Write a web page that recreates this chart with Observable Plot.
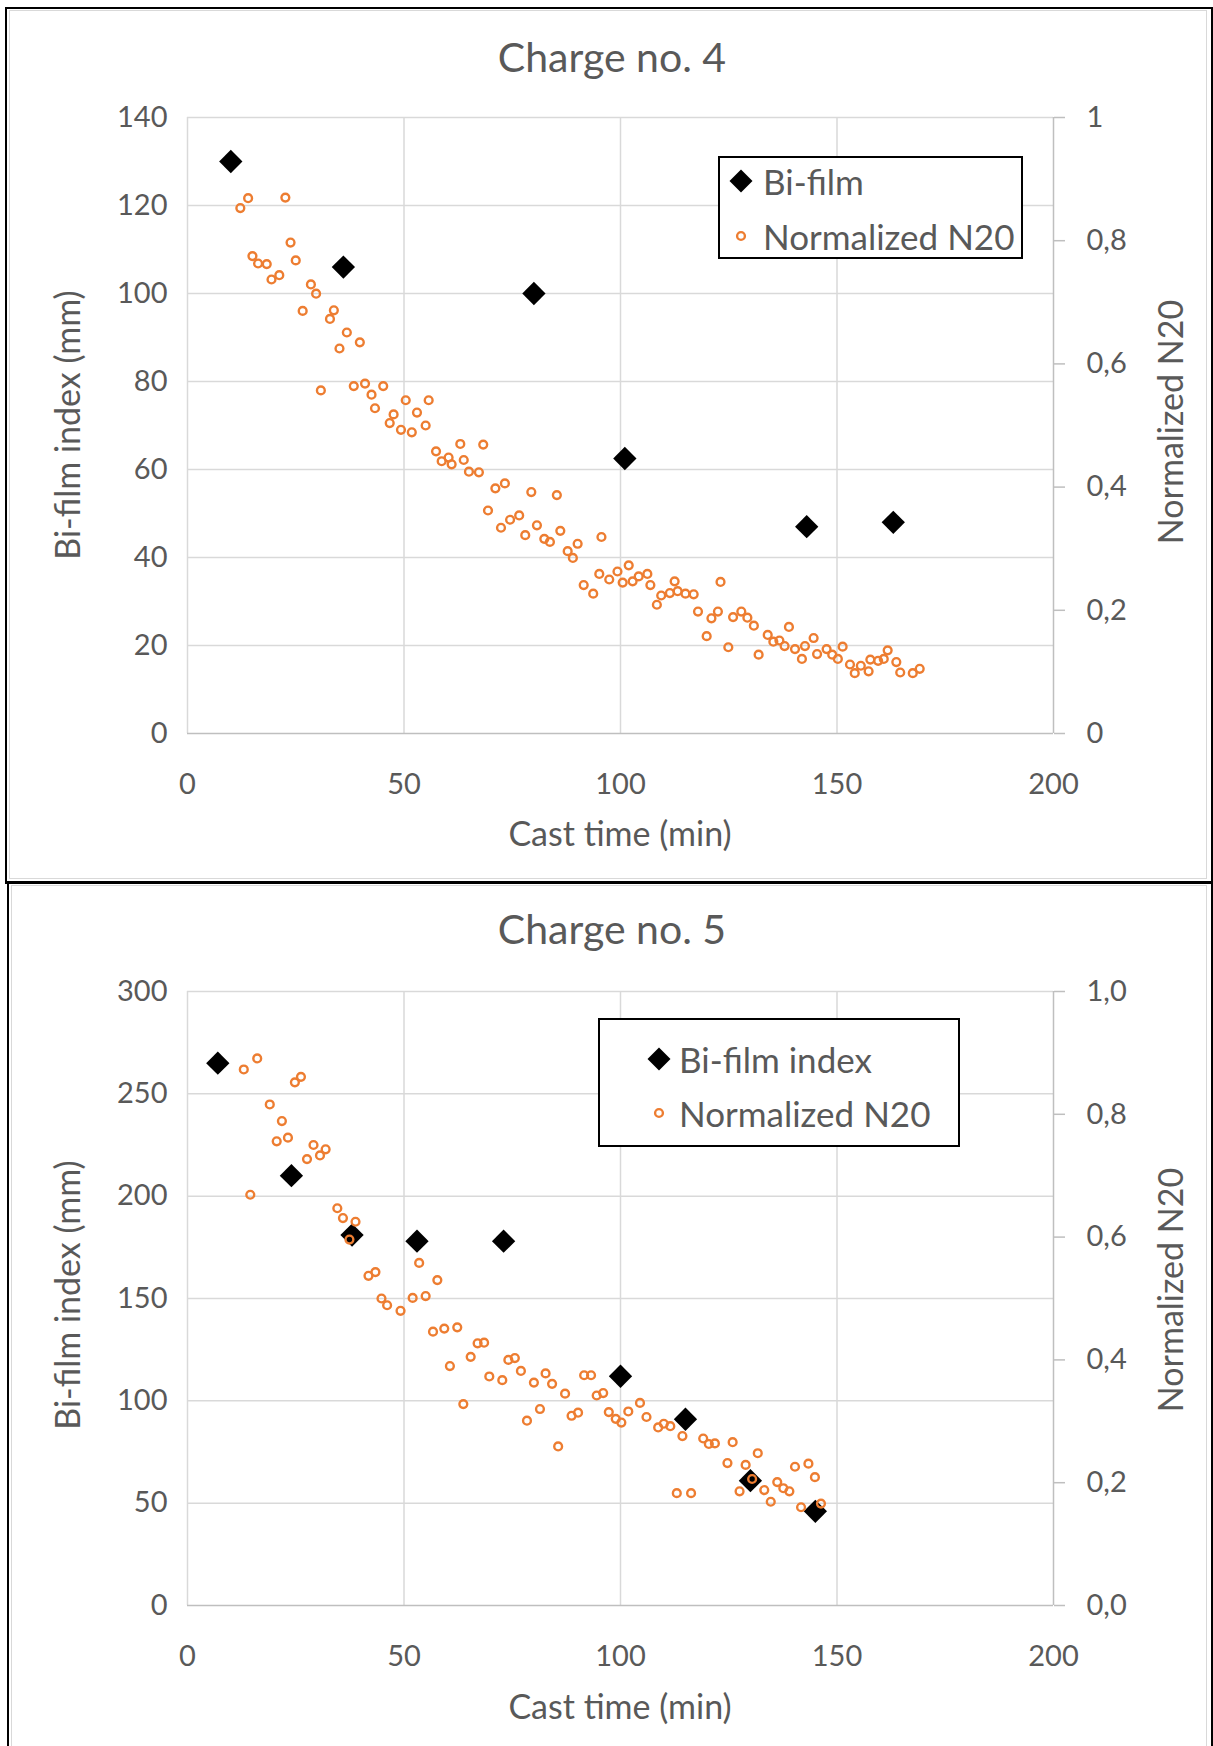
<!DOCTYPE html>
<html>
<head>
<meta charset="utf-8">
<script src="https://cdn.jsdelivr.net/npm/d3@7"></script>
<script src="https://cdn.jsdelivr.net/npm/@observablehq/plot@0.6"></script>
<style>
  html, body { margin: 0; padding: 0; background: #fff; }
  body { font-family: Lato, "Open Sans", sans-serif; color: #595959; }
  #root { position: relative; width: 1213px; height: 1746px; overflow: hidden; }
  .panel { position: absolute; box-sizing: border-box; border: 2px solid #000; }
  .inner { position: absolute; box-sizing: border-box; border: 1px solid #d9d9d9; }
  .plotwrap { position: absolute; left: 0; }
  .txt { position: absolute; white-space: nowrap; line-height: 1; color: #595959; }
  .title { font-size: 41px; transform: translate(-50%, -50%); }
  .axt { font-size: 34px; transform: translate(-50%, -50%); }
  .axty { font-size: 34px; transform: translate(-50%, -50%) rotate(-90deg); }
  .legend { position: absolute; box-sizing: border-box; border: 2px solid #000; background: #fff; }
  .legend .item { position: absolute; white-space: nowrap; font-size: 35px; line-height: 1; color: #595959; transform: translateY(-50%); }
  .legend svg { position: absolute; overflow: visible; }
</style>
</head>
<body>
<div id="root"></div>
<script>
// ---------------- DATA ----------------
const xTicks = [0, 50, 100, 150, 200];

// Charge no. 4
const c4LeftTicks = [0, 20, 40, 60, 80, 100, 120, 140];
const c4RightTicks = [0, 0.2, 0.4, 0.6, 0.8, 1];
const c4RightLabels = ["0", "0,2", "0,4", "0,6", "0,8", "1"];
const c4BifilmTime = [10, 36, 80, 101, 143, 163];
const c4BifilmIndex = [130, 106, 100, 62.5, 47, 48];
const c4N20Time = [12.2, 14.0, 15.0, 16.3, 18.3, 19.4, 21.2, 22.6, 23.8, 25.0, 26.6, 28.5, 29.7, 30.8, 32.9, 33.8, 35.1, 36.8, 38.4, 39.8,
  41.0, 42.5, 43.3, 45.2, 46.7, 47.6, 49.3, 50.4, 51.8, 53.0, 55.0, 55.7, 57.4, 58.7, 60.3, 61.0, 63.0, 63.8, 65.0, 67.3,
  68.3, 69.4, 71.1, 72.4, 73.3, 74.5, 76.6, 78.0, 79.4, 80.7, 82.4, 83.7, 85.3, 86.1, 87.8, 89.0, 90.1, 91.5, 93.7, 95.1,
  95.6, 97.4, 99.3, 100.5, 101.9, 102.8, 104.2, 106.2, 106.9, 108.4, 109.4, 111.4, 112.5, 113.2, 115.0, 116.9, 117.9, 119.9, 121.0, 122.5,
  123.1, 124.9, 126.0, 127.9, 129.3, 130.8, 131.9, 134.0, 135.3, 136.7, 137.9, 138.9, 140.3, 141.9, 142.6, 144.6, 145.4, 147.6, 148.9, 150.2,
  151.3, 153.0, 154.1, 155.5, 157.3, 157.7, 159.5, 160.8, 161.7, 163.7, 164.6, 167.5, 169.1];
const c4N20Value = [0.853, 0.869, 0.775, 0.763, 0.762, 0.737, 0.744, 0.870, 0.797, 0.768, 0.686, 0.729, 0.714, 0.557, 0.673, 0.687, 0.625, 0.651, 0.564, 0.635,
  0.568, 0.550, 0.528, 0.564, 0.504, 0.518, 0.493, 0.541, 0.489, 0.521, 0.500, 0.541, 0.458, 0.442, 0.448, 0.437, 0.470, 0.444, 0.425, 0.424,
  0.469, 0.362, 0.398, 0.334, 0.406, 0.347, 0.354, 0.322, 0.392, 0.338, 0.316, 0.311, 0.387, 0.329, 0.296, 0.285, 0.308, 0.241, 0.227, 0.259,
  0.319, 0.250, 0.263, 0.245, 0.273, 0.247, 0.255, 0.259, 0.241, 0.209, 0.224, 0.228, 0.247, 0.231, 0.227, 0.226, 0.198, 0.158, 0.187, 0.198,
  0.246, 0.140, 0.189, 0.198, 0.188, 0.175, 0.128, 0.160, 0.149, 0.151, 0.142, 0.173, 0.137, 0.121, 0.142, 0.155, 0.129, 0.137, 0.128, 0.121,
  0.141, 0.112, 0.098, 0.110, 0.101, 0.120, 0.118, 0.121, 0.135, 0.116, 0.099, 0.098, 0.105];

// Charge no. 5
const c5LeftTicks = [0, 50, 100, 150, 200, 250, 300];
const c5RightTicks = [0, 0.2, 0.4, 0.6, 0.8, 1];
const c5RightLabels = ["0,0", "0,2", "0,4", "0,6", "0,8", "1,0"];
const c5BifilmTime = [7, 24, 38, 53, 73, 100, 115, 130, 145];
const c5BifilmIndex = [265, 210, 181, 178, 178, 112, 91, 61, 46];
const c5N20Time = [13.0, 14.5, 16.1, 19.0, 20.6, 21.8, 23.2, 24.8, 26.2, 27.6, 29.1, 30.6, 31.9, 34.6, 35.9, 37.4, 38.8, 41.8, 43.4, 44.8,
  46.1, 49.2, 52.0, 53.5, 55.0, 56.7, 57.7, 59.3, 60.6, 62.3, 63.7, 65.4, 67.0, 68.5, 69.7, 72.7, 74.1, 75.6, 77.0, 78.4,
  80.0, 81.4, 82.7, 84.2, 85.6, 87.2, 88.7, 90.2, 91.6, 93.2, 94.5, 96.0, 97.3, 98.9, 100.2, 101.8, 104.5, 106.0, 108.7, 110.0,
  111.5, 113.0, 114.3, 116.3, 119.1, 120.4, 121.8, 124.7, 125.9, 127.5, 128.9, 130.4, 131.7, 133.2, 134.7, 136.2, 137.6, 139.0, 140.3, 141.7,
  143.4, 144.9, 146.3];
const c5N20Value = [0.873, 0.669, 0.891, 0.816, 0.756, 0.789, 0.762, 0.852, 0.861, 0.727, 0.750, 0.733, 0.743, 0.647, 0.631, 0.596, 0.625, 0.537, 0.543, 0.500,
  0.489, 0.480, 0.501, 0.558, 0.504, 0.446, 0.530, 0.451, 0.390, 0.453, 0.328, 0.405, 0.427, 0.428, 0.373, 0.367, 0.400, 0.403, 0.382, 0.301,
  0.363, 0.320, 0.378, 0.361, 0.259, 0.345, 0.309, 0.314, 0.375, 0.375, 0.342, 0.346, 0.315, 0.304, 0.298, 0.316, 0.330, 0.307, 0.290, 0.296,
  0.292, 0.183, 0.276, 0.183, 0.272, 0.263, 0.264, 0.232, 0.266, 0.186, 0.229, 0.206, 0.248, 0.188, 0.169, 0.201, 0.191, 0.186, 0.226, 0.160,
  0.231, 0.209, 0.166];

// ---------------- DRAWING ----------------
const ORANGE = "#ED7D31";
const DOT_R = 3.9, DOT_SW = 2.4;
const root = document.getElementById("root");

function addDiv(cls, style, text) {
  const d = document.createElement("div");
  d.className = cls;
  Object.assign(d.style, style);
  if (text != null) d.textContent = text;
  root.appendChild(d);
  return d;
}

function makeChart(cfg) {
  const yMax = cfg.leftTicks[cfg.leftTicks.length - 1];
  const bif = cfg.bTime.map((t, i) => ({t, v: cfg.bVal[i]}));
  const n20 = cfg.nTime.map((t, i) => ({t, v: cfg.nVal[i]}));
  const rightPos = cfg.rightTicks.map(v => v * yMax);
  const fmtRight = d => {
    const i = rightPos.findIndex(p => Math.abs(p - d) < 1e-6);
    return i >= 0 ? cfg.rightLabels[i] : "";
  };
  const grid = {stroke: "#d9d9d9", strokeWidth: 1.5};
  return Plot.plot({
    width: 1213,
    height: cfg.height,
    marginTop: cfg.mt,
    marginBottom: cfg.mb,
    marginLeft: 187,
    marginRight: 160,
    style: {fontFamily: "Lato, 'Open Sans', sans-serif", fontSize: "29px", color: "#595959", background: "transparent", overflow: "visible"},
    x: {domain: [0, 200]},
    y: {domain: [0, yMax]},
    marks: [
      Plot.ruleY(cfg.leftTicks.filter(d => d > 0), grid),
      Plot.ruleX(xTicks.filter(d => d > 0 && d < 200), grid),
      Plot.ruleX([0], grid),
      Plot.ruleX([200], {stroke: "#bfbfbf", strokeWidth: 1.5}),
      Plot.ruleY([0], {stroke: "#bfbfbf", strokeWidth: 1.5}),
      Plot.axisX(xTicks, {tickSize: 0, tickPadding: 40, label: null, fill: "#595959"}),
      Plot.axisY(cfg.leftTicks, {anchor: "left", tickSize: 0, tickPadding: 20, label: null, fill: "#595959"}),
      Plot.axisY(rightPos, {anchor: "right", tickSize: 11, tickPadding: 22, stroke: "#bfbfbf", strokeWidth: 1.5, fill: "#595959", tickFormat: fmtRight, label: null}),
      Plot.dot(bif, {x: "t", y: "v", symbol: "diamond2", r: 10.5, fill: "#000", stroke: "none"}),
      Plot.dot(n20, {x: "t", y: d => d.v * yMax, r: DOT_R, fill: "none", stroke: ORANGE, strokeWidth: DOT_SW})
    ]
  });
}

function legendSymbol(kind) {
  const ns = "http://www.w3.org/2000/svg";
  const s = document.createElementNS(ns, "svg");
  s.setAttribute("width", "24"); s.setAttribute("height", "24");
  s.setAttribute("viewBox", "-12 -12 24 24");
  if (kind === "diamond") {
    const p = document.createElementNS(ns, "path");
    p.setAttribute("d", "M0,-11.5L11.5,0L0,11.5L-11.5,0Z");
    p.setAttribute("fill", "#000");
    s.appendChild(p);
  } else {
    const c = document.createElementNS(ns, "circle");
    c.setAttribute("r", String(DOT_R)); c.setAttribute("fill", "none");
    c.setAttribute("stroke", ORANGE); c.setAttribute("stroke-width", String(DOT_SW));
    s.appendChild(c);
  }
  return s;
}

function addLegend(box, items) {
  const lg = addDiv("legend", {left: box.x + "px", top: box.y + "px", width: box.w + "px", height: box.h + "px"});
  items.forEach(it => {
    const s = legendSymbol(it.kind);
    s.style.left = (it.sx - 12) + "px";
    s.style.top = (it.sy - 12) + "px";
    lg.appendChild(s);
    const t = document.createElement("div");
    t.className = "item";
    t.style.left = it.tx + "px";
    t.style.top = it.sy + "px";
    t.textContent = it.label;
    lg.appendChild(t);
  });
}

// Panel frames
addDiv("panel", {left: "5px", top: "7px", width: "1208px", height: "877px"});
addDiv("inner", {left: "9px", top: "10px", width: "1198px", height: "869px"});
addDiv("panel", {left: "7px", top: "881px", width: "1206px", height: "880px"});
addDiv("inner", {left: "11px", top: "885px", width: "1196px", height: "870px"});

// Chart 1
const w1 = addDiv("plotwrap", {top: "0px"});
w1.appendChild(makeChart({
  height: 882, mt: 117, mb: 149,
  leftTicks: c4LeftTicks, rightTicks: c4RightTicks, rightLabels: c4RightLabels,
  bTime: c4BifilmTime, bVal: c4BifilmIndex, nTime: c4N20Time, nVal: c4N20Value
}));
addDiv("txt title", {left: "612px", top: "56px"}, "Charge no. 4");
addDiv("txt axt", {left: "620px", top: "833px"}, "Cast time (min)");
addDiv("txt axty", {left: "67px", top: "425px"}, "Bi-film index (mm)");
addDiv("txt axty", {left: "1170px", top: "422px"}, "Normalized N20");
addLegend({x: 718, y: 156, w: 305, h: 103}, [
  {kind: "diamond", sx: 21, sy: 23, tx: 43, label: "Bi-film"},
  {kind: "circle", sx: 21, sy: 78, tx: 43, label: "Normalized N20"}
]);

// Chart 2
const w2 = addDiv("plotwrap", {top: "882px"});
w2.appendChild(makeChart({
  height: 864, mt: 109, mb: 141,
  leftTicks: c5LeftTicks, rightTicks: c5RightTicks, rightLabels: c5RightLabels,
  bTime: c5BifilmTime, bVal: c5BifilmIndex, nTime: c5N20Time, nVal: c5N20Value
}));
addDiv("txt title", {left: "612px", top: "928px"}, "Charge no. 5");
addDiv("txt axt", {left: "620px", top: "1706px"}, "Cast time (min)");
addDiv("txt axty", {left: "67px", top: "1295px"}, "Bi-film index (mm)");
addDiv("txt axty", {left: "1170px", top: "1290px"}, "Normalized N20");
addLegend({x: 598, y: 1018, w: 362, h: 129}, [
  {kind: "diamond", sx: 59, sy: 39, tx: 79, label: "Bi-film index"},
  {kind: "circle", sx: 59, sy: 93, tx: 79, label: "Normalized N20"}
]);
</script>
</body>
</html>
